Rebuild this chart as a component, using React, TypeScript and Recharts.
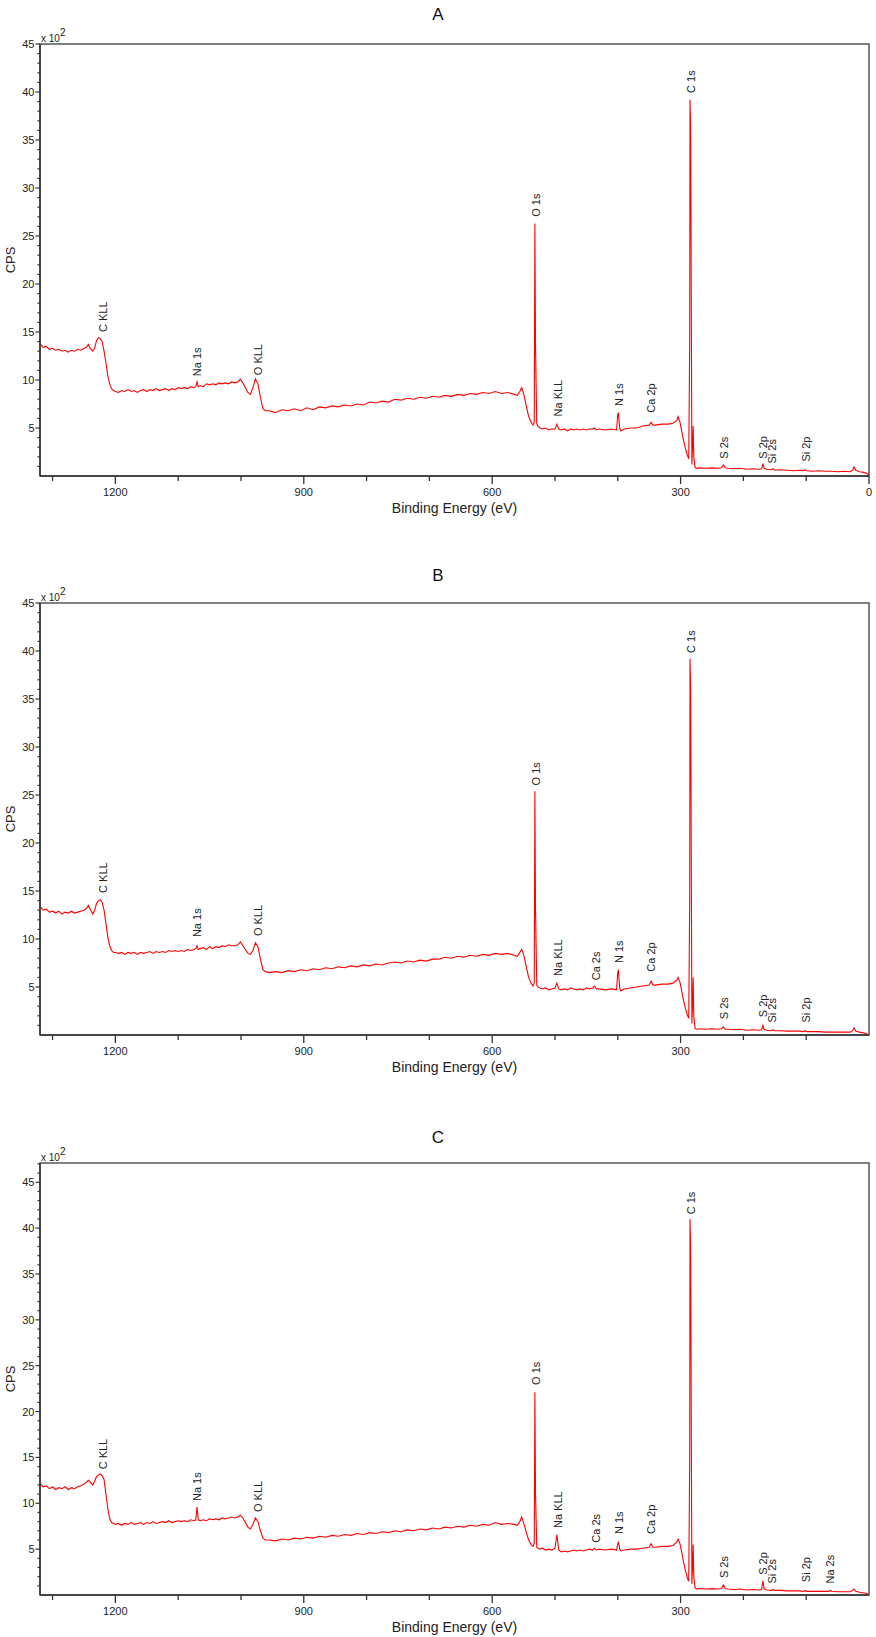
import { LineChart, Line, XAxis, YAxis, ReferenceArea, ReferenceDot } from "recharts";

const FONT = "'Liberation Sans', Arial, sans-serif";

// binding energy grid (eV), shared by the three survey scans
const energy = [
  1320, 1315, 1310, 1305, 1300, 1295, 1290, 1285, 1280, 1275,
  1270, 1265, 1260, 1255, 1250, 1246, 1243, 1240, 1236, 1233,
  1230, 1227, 1224, 1221, 1218, 1215, 1212, 1209, 1206, 1203,
  1200, 1195, 1190, 1185, 1180, 1175, 1170, 1165, 1160, 1155,
  1150, 1145, 1140, 1135, 1130, 1125, 1120, 1115, 1110, 1105,
  1100, 1095, 1090, 1085, 1080, 1075, 1072, 1070, 1068, 1065,
  1060, 1055, 1050, 1045, 1040, 1035, 1030, 1025, 1020, 1015,
  1010, 1005, 1001, 997, 993, 989, 985, 981, 977, 973,
  969, 965, 961, 955, 945, 935, 925, 915, 905, 895,
  885, 875, 865, 855, 845, 835, 825, 815, 805, 795,
  785, 775, 765, 755, 745, 735, 725, 715, 705, 695,
  685, 675, 665, 655, 645, 635, 625, 615, 605, 595,
  585, 575, 565, 560, 556, 553, 550, 546, 542, 538,
  535, 533, 532, 531, 529, 527, 524, 520, 515, 510,
  505, 500, 497, 494, 490, 485, 480, 475, 470, 465,
  460, 455, 450, 445, 440, 437, 434, 430, 420, 410,
  402, 400, 399, 397, 395, 390, 380, 370, 360, 350,
  347, 344, 340, 330, 320, 312, 306, 304, 301, 298,
  295, 292, 289, 287, 285.5, 285, 284, 282, 281, 280,
  279, 277, 275, 270, 260, 250, 240, 235, 232, 229,
  225, 215, 205, 195, 185, 175, 171, 169, 167, 163,
  155, 153, 150, 140, 130, 120, 110, 104, 102, 99,
  90, 80, 70, 64, 62, 59, 50, 40, 30, 26,
  24, 21, 15, 10, 5, 0,
];

// counts (x10^2 CPS)
const cpsA = [
  13.8, 13.4, 13.5, 13.2, 13.3, 13.1, 13.2, 13.0, 13.1, 12.9,
  13.1, 13.0, 13.2, 13.1, 13.3, 13.4, 13.7, 13.3, 13.0, 13.3,
  14.1, 14.4, 14.3, 14.0, 13.0, 11.8, 10.4, 9.6, 9.1, 8.9,
  8.8, 8.7, 8.9, 8.8, 9.0, 8.8, 8.9, 8.7, 8.9, 9.0,
  8.8, 9.0, 8.9, 9.1, 8.9, 9.0, 9.1, 8.9, 9.1, 9.0,
  9.2, 9.1, 9.2, 9.1, 9.3, 9.2, 9.3, 9.8, 9.3, 9.4,
  9.3, 9.6, 9.5, 9.6, 9.5, 9.7, 9.6, 9.7, 9.6, 9.8,
  9.7, 9.8, 10.1, 9.7, 9.2, 8.7, 8.5, 9.2, 10.1, 9.6,
  8.2, 7.0, 6.8, 6.8, 6.6, 6.9, 6.8, 7.0, 6.8, 7.1,
  6.9, 7.2, 7.1, 7.3, 7.2, 7.4, 7.3, 7.5, 7.4, 7.7,
  7.6, 7.8, 7.7, 8.0, 7.9, 8.1, 8.0, 8.2, 8.1, 8.3,
  8.2, 8.4, 8.3, 8.5, 8.4, 8.6, 8.5, 8.7, 8.6, 8.8,
  8.6, 8.7, 8.5, 8.4, 8.8, 9.2, 8.6, 7.4, 6.2, 5.6,
  5.3, 5.6, 26.3, 13.5, 5.4, 5.2, 5.0, 4.9, 5.0, 4.8,
  4.9, 4.9, 5.4, 4.9, 4.8, 4.9, 4.7, 4.9, 4.8, 4.9,
  4.8, 4.9, 4.8, 4.9, 4.9, 5.0, 4.8, 4.9, 4.8, 4.9,
  4.8, 6.4, 6.6, 5.0, 4.7, 4.9, 5.0, 5.0, 5.2, 5.3,
  5.6, 5.3, 5.3, 5.4, 5.4, 5.5, 5.8, 6.2, 5.6, 4.6,
  3.6, 2.8, 2.1, 1.8, 14.0, 39.2, 36.0, 1.2, 3.0, 5.2,
  2.0, 0.9, 0.8, 0.85, 0.8, 0.85, 0.8, 0.85, 1.15, 0.85,
  0.8, 0.75, 0.8, 0.7, 0.75, 0.7, 0.75, 1.3, 0.8, 0.7,
  0.65, 0.75, 0.6, 0.65, 0.6, 0.55, 0.6, 0.55, 0.65, 0.55,
  0.5, 0.55, 0.5, 0.5, 0.5, 0.5, 0.45, 0.5, 0.45, 0.6,
  0.95, 0.6, 0.45, 0.4, 0.3, 0.1,
];

const cpsB = [
  13.4, 13.0, 13.1, 12.8, 12.9, 12.7, 12.9, 12.6, 12.8, 12.7,
  12.9, 12.7, 12.8, 12.9, 13.0, 13.2, 13.5, 13.1, 12.6, 13.0,
  13.7, 14.0, 14.1, 13.8, 13.0, 11.6, 10.2, 9.3, 8.8, 8.6,
  8.6, 8.5, 8.6, 8.4, 8.6, 8.5, 8.6, 8.4, 8.6, 8.5,
  8.6, 8.7, 8.5, 8.7, 8.6, 8.7, 8.6, 8.8, 8.7, 8.8,
  8.7, 8.8, 8.7, 8.9, 8.8, 8.9, 9.0, 9.3, 8.9, 9.0,
  9.1, 8.9, 9.2, 9.0, 9.2, 9.1, 9.3, 9.2, 9.4, 9.3,
  9.3, 9.4, 9.7, 9.3, 8.9, 8.5, 8.4, 8.8, 9.6, 9.2,
  7.9, 6.8, 6.6, 6.5, 6.6, 6.5, 6.7, 6.6, 6.8, 6.7,
  6.9, 6.8, 7.0, 6.9, 7.1, 7.0, 7.2, 7.1, 7.3, 7.2,
  7.4, 7.3, 7.5, 7.6, 7.5, 7.7, 7.6, 7.8, 7.7, 7.9,
  7.9, 8.1, 8.0, 8.2, 8.1, 8.3, 8.2, 8.4, 8.3, 8.5,
  8.4, 8.5, 8.3, 8.2, 8.6, 8.9, 8.4, 7.2, 6.0, 5.4,
  5.1, 5.4, 25.4, 13.0, 5.2, 5.0, 4.9, 4.8, 4.9, 4.7,
  4.8, 4.9, 5.4, 4.8, 4.7, 4.8, 4.7, 4.9, 4.8, 4.7,
  4.8, 4.7, 4.9, 4.8, 4.9, 5.1, 4.8, 4.8, 4.7, 4.8,
  4.7, 6.5, 6.8, 4.9, 4.6, 4.8, 4.9, 5.0, 5.1, 5.2,
  5.6, 5.2, 5.2, 5.3, 5.3, 5.4, 5.7, 6.0, 5.5, 4.5,
  3.5, 2.7, 2.0, 1.8, 14.0, 39.2, 36.0, 1.2, 3.0, 6.0,
  2.0, 0.7, 0.6, 0.65, 0.6, 0.65, 0.6, 0.65, 0.85, 0.6,
  0.6, 0.55, 0.6, 0.5, 0.55, 0.5, 0.55, 1.0, 0.6, 0.5,
  0.45, 0.55, 0.45, 0.45, 0.4, 0.4, 0.4, 0.35, 0.45, 0.35,
  0.35, 0.35, 0.3, 0.3, 0.3, 0.3, 0.3, 0.3, 0.3, 0.45,
  0.75, 0.4, 0.3, 0.25, 0.15, 0.0,
];

const cpsC = [
  12.2, 11.8, 11.9, 11.6, 11.8, 11.5, 11.7, 11.6, 11.8, 11.5,
  11.7, 11.6, 11.8, 11.9, 12.1, 12.3, 12.5, 12.3, 12.0, 12.4,
  12.9, 13.1, 13.2, 13.0, 12.6, 11.0, 9.4, 8.3, 7.9, 7.8,
  7.7, 7.8, 7.6, 7.8, 7.7, 7.9, 7.7, 7.8, 7.9, 7.7,
  7.9, 7.8, 8.0, 7.8, 7.9, 8.0, 7.9, 8.1, 7.9, 8.0,
  8.1, 8.0, 8.1, 8.0, 8.2, 8.1, 8.2, 9.6, 8.2, 8.1,
  8.2, 8.1, 8.3, 8.2, 8.3, 8.2, 8.4, 8.3, 8.4, 8.5,
  8.4, 8.5, 8.7, 8.4, 7.9, 7.4, 7.2, 7.7, 8.4, 8.0,
  7.0, 6.2, 6.0, 6.0, 5.9, 6.1, 6.0, 6.2, 6.1, 6.3,
  6.2, 6.4, 6.3, 6.5, 6.4, 6.6, 6.5, 6.7, 6.6, 6.8,
  6.7, 6.9, 6.8, 7.0, 6.9, 7.1, 7.0, 7.2, 7.1, 7.3,
  7.2, 7.4, 7.3, 7.5, 7.4, 7.6, 7.5, 7.7, 7.6, 7.9,
  7.7, 7.8, 7.7, 7.6, 8.0, 8.5, 7.9, 6.9, 6.0, 5.5,
  5.3, 5.6, 22.1, 11.0, 5.2, 5.1, 5.0, 5.1, 4.9, 5.0,
  4.9, 5.1, 6.6, 4.9, 4.7, 4.8, 4.7, 4.8, 4.9, 4.8,
  4.9, 4.8, 4.9, 5.0, 4.9, 5.1, 4.9, 5.0, 4.9, 5.0,
  4.9, 5.6, 5.8, 5.0, 4.8, 4.9, 5.0, 5.0, 5.1, 5.2,
  5.6, 5.2, 5.2, 5.3, 5.3, 5.4, 5.8, 6.1, 5.6, 4.6,
  3.5, 2.6, 1.8, 1.5, 15.0, 41.0, 37.5, 1.2, 3.0, 5.5,
  2.0, 0.8, 0.7, 0.7, 0.65, 0.7, 0.65, 0.7, 1.1, 0.7,
  0.65, 0.6, 0.65, 0.55, 0.6, 0.55, 0.6, 1.55, 0.7, 0.55,
  0.5, 0.6, 0.5, 0.5, 0.45, 0.45, 0.45, 0.4, 0.5, 0.4,
  0.4, 0.4, 0.4, 0.4, 0.5, 0.4, 0.35, 0.35, 0.35, 0.5,
  0.65, 0.4, 0.3, 0.25, 0.2, 0.0,
];

// peak annotations: energy of the label and the count where the text starts
const peakNames = ["C KLL", "Na 1s", "O KLL", "O 1s", "Na KLL", "Ca 2s", "N 1s", "Ca 2p", "C 1s", "S 2s", "S 2p", "Si 2s", "Si 2p", "Na 2s"];
const peakEnergy = [1220, 1070, 973, 530, 495, 434, 398, 347, 283, 231, 168, 154, 100, 62];
const labelAtA = [15.0, 10.4, 10.5, 27.0, 6.2, null, 7.3, 6.6, 39.9, 1.8, 1.8, 1.3, 1.5, null];
const labelAtB = [14.8, 10.2, 10.3, 26.0, 6.15, 5.7, 7.5, 6.6, 39.8, 1.65, 1.85, 1.3, 1.3, null];
const labelAtC = [13.7, 10.25, 9.05, 22.9, 7.3, 5.7, 6.65, 6.65, 41.5, 1.85, 2.2, 1.25, 1.4, 1.25];

const xTicksA = [1300, 1200, 1100, 1000, 900, 800, 700, 600, 500, 400, 300, 200, 100, 0];
const xTicksBC = [1300, 1200, 1100, 1000, 900, 800, 700, 600, 500, 400, 300, 200, 100];
const yTicks45 = [
  0, 1, 2, 3, 4, 5, 6, 7, 8, 9, 10, 11, 12, 13, 14, 15, 16, 17, 18, 19, 20, 21, 22,
  23, 24, 25, 26, 27, 28, 29, 30, 31, 32, 33, 34, 35, 36, 37, 38, 39, 40, 41, 42, 43, 44, 45,
];
const yTicks47 = [...yTicks45, 46, 47];

const rows = energy.map((e, i) => ({ e, a: cpsA[i], b: cpsB[i], c: cpsC[i] }));

function XTick(props: any) {
  const { x, y, payload } = props;
  const v = payload.value;
  const major = v % 300 === 0;
  return (
    <g>
      <line x1={x} x2={x} y1={y} y2={y + (major ? 8 : 5)} stroke="#333" strokeWidth={1.3} />
      {major && (
        <text x={x} y={y + 20} textAnchor="middle" fontSize={11} fill="#222" fontFamily={FONT}>
          {v}
        </text>
      )}
    </g>
  );
}

function YTick(props: any) {
  const { x, y, payload } = props;
  const v = payload.value;
  if (v === 0) return <g />;
  const major = v % 5 === 0;
  return (
    <g>
      <line x1={x - (major ? 4.5 : 2.5)} x2={x} y1={y} y2={y} stroke="#333" strokeWidth={1.2} />
      {major && (
        <text x={x - 5.5} y={y + 4} textAnchor="end" fontSize={11} fill="#222" fontFamily={FONT}>
          {v}
        </text>
      )}
    </g>
  );
}

function XLabel(props: any) {
  const { x, y, width } = props.viewBox;
  return (
    <text x={x + width / 2} y={y + 37} textAnchor="middle" fontSize={14} fill="#222" fontFamily={FONT}>
      Binding Energy (eV)
    </text>
  );
}

function YLabel(props: any) {
  const { x, y, width, height } = props.viewBox;
  const cy = y + height / 2;
  return (
    <g fontFamily={FONT} fill="#222">
      <text x={10} y={cy} transform={`rotate(-90 10 ${cy})`} textAnchor="middle" dy="0.35em" fontSize={13}>
        CPS
      </text>
      <text x={x + width + 1} y={y - 2} fontSize={10}>
        x 10
        <tspan dy={-6} fontSize={10}>
          2
        </tspan>
      </text>
    </g>
  );
}

function PeakLabel({ cx, cy, text }: { cx: number; cy: number; text: string }) {
  return (
    <text
      x={cx}
      y={cy}
      transform={`rotate(-90 ${cx} ${cy})`}
      dy="0.35em"
      fontSize={11}
      fill="#222"
      fontFamily={FONT}
    >
      {text}
    </text>
  );
}

type PanelProps = {
  title: string;
  dataKey: string;
  labelAt: (number | null)[];
  yMax: number;
  yTicks: number[];
  xTicks: number[];
  height: number;
  top: number;
  bottom: number;
  titleTop: number;
};

function Panel({ title, dataKey, labelAt, yMax, yTicks, xTicks, height, top, bottom, titleTop }: PanelProps) {
  return (
    <div style={{ position: "relative", width: 876, height }}>
      <LineChart width={876} height={height} data={rows} margin={{ top, right: 7, bottom, left: 0 }}>
        <ReferenceArea x1={0} x2={1320} y1={0} y2={yMax} fill="none" stroke="#555" strokeWidth={1.5} />
        <XAxis
          type="number"
          dataKey="e"
          domain={[0, 1320]}
          reversed
          allowDataOverflow
          ticks={xTicks}
          interval={0}
          tickSize={0}
          tickMargin={0}
          tickLine={false}
          tick={<XTick />}
          axisLine={{ stroke: "#333", strokeWidth: 1.5 }}
          height={40}
          label={<XLabel />}
        />
        <YAxis
          type="number"
          domain={[0, yMax]}
          allowDataOverflow
          ticks={yTicks}
          interval={0}
          tickSize={0}
          tickMargin={0}
          tickLine={false}
          tick={<YTick />}
          axisLine={{ stroke: "#333", strokeWidth: 1.5 }}
          width={40}
          label={<YLabel />}
        />
        <Line
          dataKey={dataKey}
          type="linear"
          stroke="#ff0000"
          strokeWidth={1.1}
          dot={false}
          isAnimationActive={false}
        />
        {peakNames.map((name, i) =>
          labelAt[i] == null ? null : (
            <ReferenceDot
              key={name}
              x={peakEnergy[i]}
              y={labelAt[i] as number}
              r={0}
              shape={(p: any) => <PeakLabel cx={p.cx} cy={p.cy} text={name} />}
            />
          )
        )}
      </LineChart>
      <div
        style={{
          position: "absolute",
          top: titleTop,
          left: 0,
          width: 876,
          textAlign: "center",
          fontSize: 17,
          lineHeight: "17px",
          fontFamily: FONT,
          color: "#111",
        }}
      >
        {title}
      </div>
    </div>
  );
}

export default function App() {
  return (
    <div style={{ width: 876, height: 1637, background: "#fff" }}>
      <style>{"body{margin:0;}"}</style>
      <Panel title="A" dataKey="a" labelAt={labelAtA} yMax={45} yTicks={yTicks45} xTicks={xTicksA}
        height={540} top={44} bottom={24} titleTop={6} />
      <Panel title="B" dataKey="b" labelAt={labelAtB} yMax={45} yTicks={yTicks45} xTicks={xTicksBC}
        height={540} top={63} bottom={5} titleTop={27} />
      <Panel title="C" dataKey="c" labelAt={labelAtC} yMax={47.1} yTicks={yTicks47} xTicks={xTicksBC}
        height={557} top={83} bottom={2} titleTop={49} />
    </div>
  );
}
